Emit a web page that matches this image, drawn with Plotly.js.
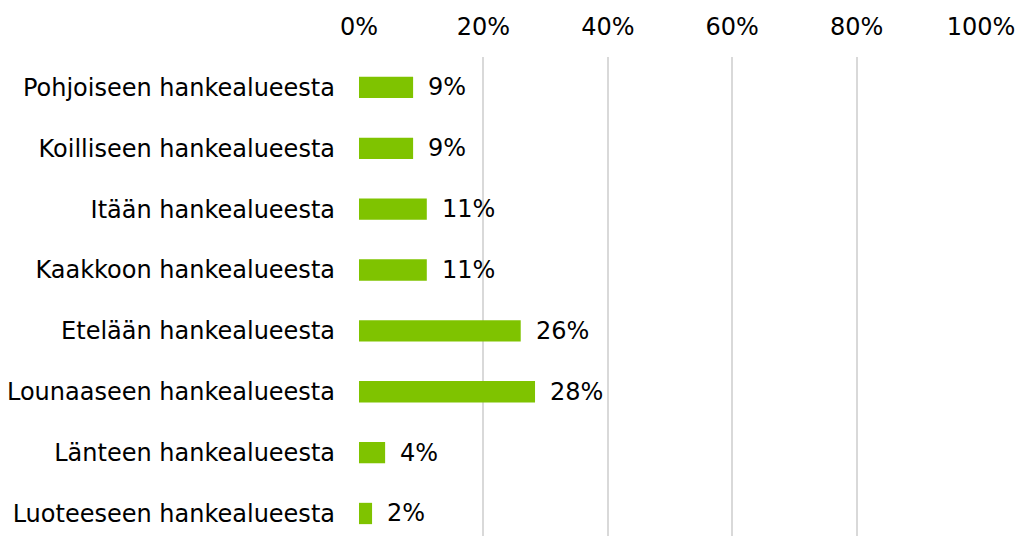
<!DOCTYPE html>
<html><head><meta charset="utf-8">
<script src="https://cdn.plot.ly/plotly-3.0.1.min.js"></script>
<style>html,body{margin:0;padding:0;background:#fff}#chart{width:1019px;height:536px}</style>
</head><body><div id="chart"></div>
<script>
const categories = ["Pohjoiseen hankealueesta","Koilliseen hankealueesta","Itään hankealueesta","Kaakkoon hankealueesta","Etelään hankealueesta","Lounaaseen hankealueesta","Länteen hankealueesta","Luoteeseen hankealueesta"];
const values = [0.087, 0.087, 0.109, 0.109, 0.26, 0.283, 0.042, 0.021];
const labels = ["9%","9%","11%","11%","26%","28%","4%","2%"];
const tickVals = [0, 0.2, 0.4, 0.6, 0.8, 1.0];
const tickText = ["0%","20%","40%","60%","80%","100%"];

const font = {family: "DejaVu Sans, Verdana, sans-serif", size: 24, color: "#000"};
const annotations = categories.map((c, i) => ({
  x: values[i], y: c, xref: "x", yref: "y", text: labels[i],
  showarrow: false, xanchor: "left", yanchor: "middle", xshift: 13, font: font
}));

Plotly.newPlot("chart", [{
  type: "bar", orientation: "h", x: values, y: categories,
  marker: {color: "#7FC300"}, hoverinfo: "none"
}], {
  width: 1019, height: 536,
  margin: {l: 359, r: 38, t: 57, b: 0},
  paper_bgcolor: "#fff", plot_bgcolor: "#fff",
  bargap: 0.65,
  showlegend: false,
  font: font,
  xaxis: {side: "top", range: [0, 1], tickvals: tickVals, ticktext: tickText,
    showgrid: true, gridcolor: "#d9d9d9", gridwidth: 2, zeroline: false,
    showline: false, ticks: "", ticklabelstandoff: 16, tickfont: font, fixedrange: true},
  yaxis: {type: "category", categoryorder: "array", categoryarray: categories,
    range: [7.37, -0.5], showgrid: false, zeroline: false, showline: false,
    ticks: "", ticklabelstandoff: 23, tickfont: font, fixedrange: true},
  annotations: annotations
}, {displayModeBar: false, staticPlot: true});
</script></body></html>
